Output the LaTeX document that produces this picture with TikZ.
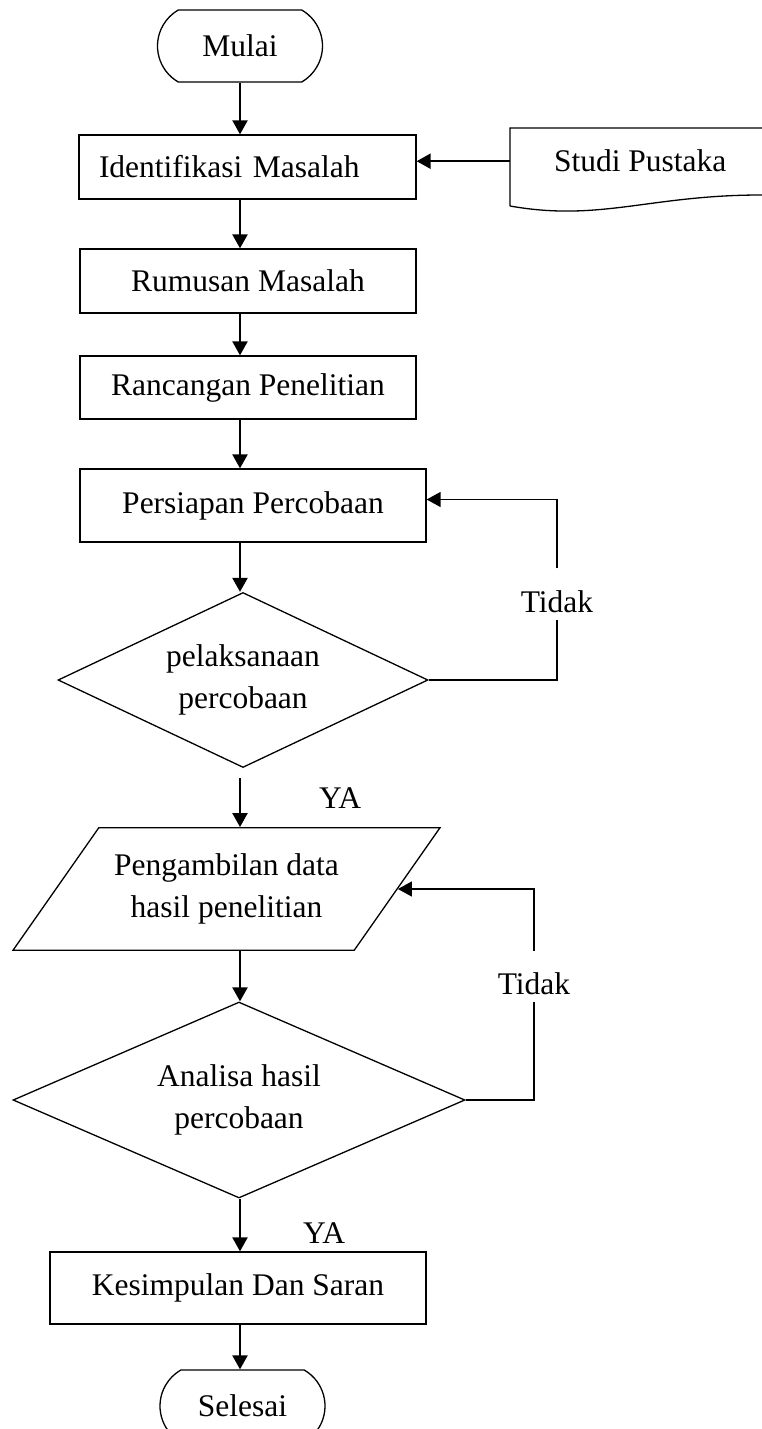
\documentclass[tikz,border=0pt]{standalone}
\usepackage{fontspec}
\setmainfont{Liberation Serif}
\usepackage{tikz}
\usetikzlibrary{arrows.meta,positioning,calc,shapes.geometric,shapes.misc}
\newcommand{\flowfont}{\fontsize{31.5}{42}\selectfont}

\begin{document}
\begin{tikzpicture}[x=1pt, y=-1pt, every node/.style={font=\flowfont},
  proses/.style={draw, line width=1.3pt, minimum height=64pt, inner sep=0pt},
  terminal/.style={draw, line width=1.3pt, rounded rectangle, rounded rectangle arc length=120, minimum width=165pt, minimum height=72pt, inner sep=0pt},
  keputusan/.style={draw, line width=1.3pt, diamond, align=center, inner sep=0pt},
  masukan/.style={draw, line width=1.3pt, trapezium, trapezium left angle=55, trapezium right angle=125, trapezium stretches body, align=center, minimum width=427pt, inner xsep=0pt, inner ysep=26pt},
  ket/.style={inner xsep=2pt, inner ysep=0pt, text height=43.5pt, text depth=7.5pt},
  alur/.style={line width=2.3pt, -{Triangle[length=14pt,width=15pt]}},
  balik/.style={line width=1.4pt}]
\useasboundingbox (0,0) rectangle (761,1429);
\coordinate (sumbu) at (240,0);

\node[terminal] (mulai) at (240,46) {Mulai};
\node[proses, text width=297pt, align=left, inner xsep=20pt] (ident) at (247.5,167) {Identifikasi Masalah};
\node[proses, minimum width=336pt] (rumusan) at (248,281) {Rumusan Masalah};
\node[proses, minimum width=336pt, minimum height=63pt] (rancangan) at (248,387.5) {Rancangan Penelitian};
\node[proses, minimum width=346pt, minimum height=73pt] (persiapan) at (253,505.5) {Persiapan Percobaan};
\node[keputusan, shape aspect=2.1, minimum width=370pt, minimum height=175pt] (uji) at (243,680) {pelaksanaan\\percobaan};
\node[masukan] (ambil) at (226.5,889) {Pengambilan data\\hasil penelitian};
\node[keputusan, shape aspect=2.3, minimum width=452pt, minimum height=196pt] (analisa) at (239,1100) {Analisa hasil\\percobaan};
\node[proses, minimum width=376pt, minimum height=72pt] (simpul) at (238,1288) {Kesimpulan Dan Saran};
\node[terminal] (selesai) at (242.5,1406) {Selesai};

% studi pustaka (dokumen)
\node[minimum width=260pt, minimum height=66pt, anchor=north west] (studi) at (510,128) {Studi Pustaka};
\draw[line width=1.3pt] (510,206) -- (510,128) -- (800,128) -- (800,195) -- (761,195)
  .. controls (650,195) and (600,222) .. (510,206);

\node[ket] (tidak1) at (557,594) {Tidak};
\node[ket] (tidak2) at (534,976.5) {Tidak};
\node (ya1) at (340,798) {YA};
\node (ya2) at (324,1233) {YA};

\foreach \a/\b in {mulai/ident, ident/rumusan, rumusan/rancangan, rancangan/persiapan, persiapan/uji, ambil/analisa, analisa/simpul, simpul/selesai}
  \draw[alur] (sumbu |- \a.south) -- (sumbu |- \b.north);
\draw[alur, shorten <=10pt] (sumbu |- uji.south) -- (sumbu |- ambil.north);
\draw[alur] (studi.west) -- (studi.west -| ident.east);

% putaran tidak
\draw[balik] (uji.east) -| (tidak1.south);
\draw[alur, balik] (tidak1.north) |- ([yshift=6pt]persiapan.east);
\draw[balik] (analisa.east) -| (tidak2.south);
\draw[alur, balik] (tidak2.north) |- (ambil);
\end{tikzpicture}
\end{document}
